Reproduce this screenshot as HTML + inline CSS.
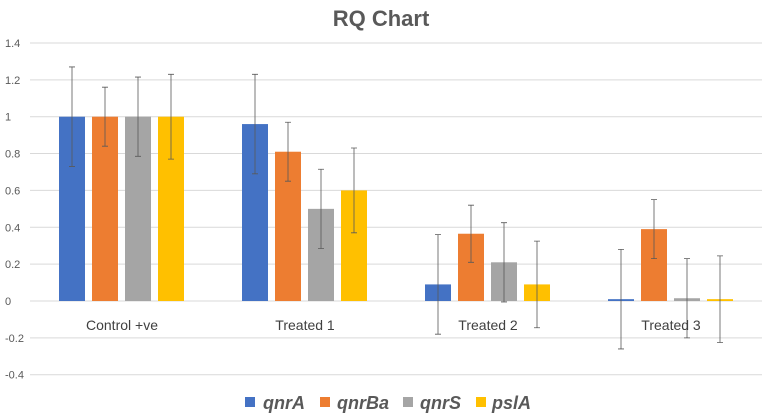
<!DOCTYPE html>
<html><head><meta charset="utf-8"><style>
body{margin:0;background:#fff;font-family:"Liberation Sans",sans-serif}
svg{display:block}
</style></head><body>
<svg id="c" width="762" height="415">
<text x="381" y="26" text-anchor="middle" font-size="22" font-weight="bold" fill="#595959">RQ Chart</text>
<g id="grid"></g><g id="bars"></g><g id="err"></g><g id="labels"></g>
<g>
<rect x="245" y="397" width="10" height="10" fill="#4472C4"/>
<text x="263" y="409" font-size="18" font-weight="bold" font-style="italic" fill="#595959">qnrA</text>
<rect x="320" y="397" width="10" height="10" fill="#ED7D31"/>
<text x="337" y="409" font-size="18" font-weight="bold" font-style="italic" fill="#595959">qnrBa</text>
<rect x="403" y="397" width="10" height="10" fill="#A5A5A5"/>
<text x="420" y="409" font-size="18" font-weight="bold" font-style="italic" fill="#595959">qnrS</text>
<rect x="476" y="397" width="10" height="10" fill="#FFC000"/>
<text x="492" y="409" font-size="18" font-weight="bold" font-style="italic" fill="#595959">pslA</text>
</g>
</svg>
<script>
const categories=["Control +ve","Treated 1","Treated 2","Treated 3"];
const seriesNames=["qnrA","qnrBa","qnrS","pslA"];
const qnrA=[1,0.96,0.09,0.01];
const qnrBa=[1,0.81,0.365,0.39];
const qnrS=[1,0.50,0.21,0.015];
const pslA=[1,0.60,0.09,0.01];
const errA=[0.27,0.27,0.27,0.27];
const errBa=[0.16,0.16,0.155,0.16];
const errS=[0.215,0.215,0.215,0.215];
const errP=[0.23,0.23,0.235,0.235];
const ticks=[-0.4,-0.2,0,0.2,0.4,0.6,0.8,1,1.2,1.4];
const tickLabels=["-0.4","-0.2","0","0.2","0.4","0.6","0.8","1","1.2","1.4"];
const NS="http://www.w3.org/2000/svg";
const y=v=>301-v*184.3;
const x0=30.5,gw=183;
const colors=["#4472C4","#ED7D31","#A5A5A5","#FFC000"];
const series=[qnrA,qnrBa,qnrS,pslA],errs=[errA,errBa,errS,errP];
function mk(t,a,p){const e=document.createElementNS(NS,t);for(const k in a)e.setAttribute(k,a[k]);document.getElementById(p).appendChild(e);return e;}
ticks.forEach((t,i)=>{
 const l=mk("line",{x1:30,x2:762,y1:y(t),y2:y(t),stroke:"#d9d9d9","stroke-width":1},"grid");
 
 
 const tx=mk("text",{x:5,y:y(t)+4,"font-size":11,fill:"#595959"},"labels");
 tx.textContent=tickLabels[i];
 
 
});
categories.forEach((c,g)=>{
 const cx=x0+gw*g+gw/2;
 series.forEach((s,k)=>{
  const bx=cx-63+k*33,v=s[g];
  const r=mk("rect",{x:bx,y:Math.min(y(v),y(0)),width:26,height:Math.abs(y(v)-y(0)),fill:colors[k]},"bars");
  
  
  const ex=bx+13,e=errs[k][g];
  const el=mk("path",{d:`M${ex},${y(v+e)}V${y(v-e)}M${ex-3},${y(v+e)}h6M${ex-3},${y(v-e)}h6`,stroke:"#595959","stroke-width":0.8,fill:"none"},"err");
  
  
 });
 const t=mk("text",{x:cx,y:330,"text-anchor":"middle","font-size":14,fill:"#404040"},"labels");
 t.textContent=c;
 
 
});
</script>
</body></html>
